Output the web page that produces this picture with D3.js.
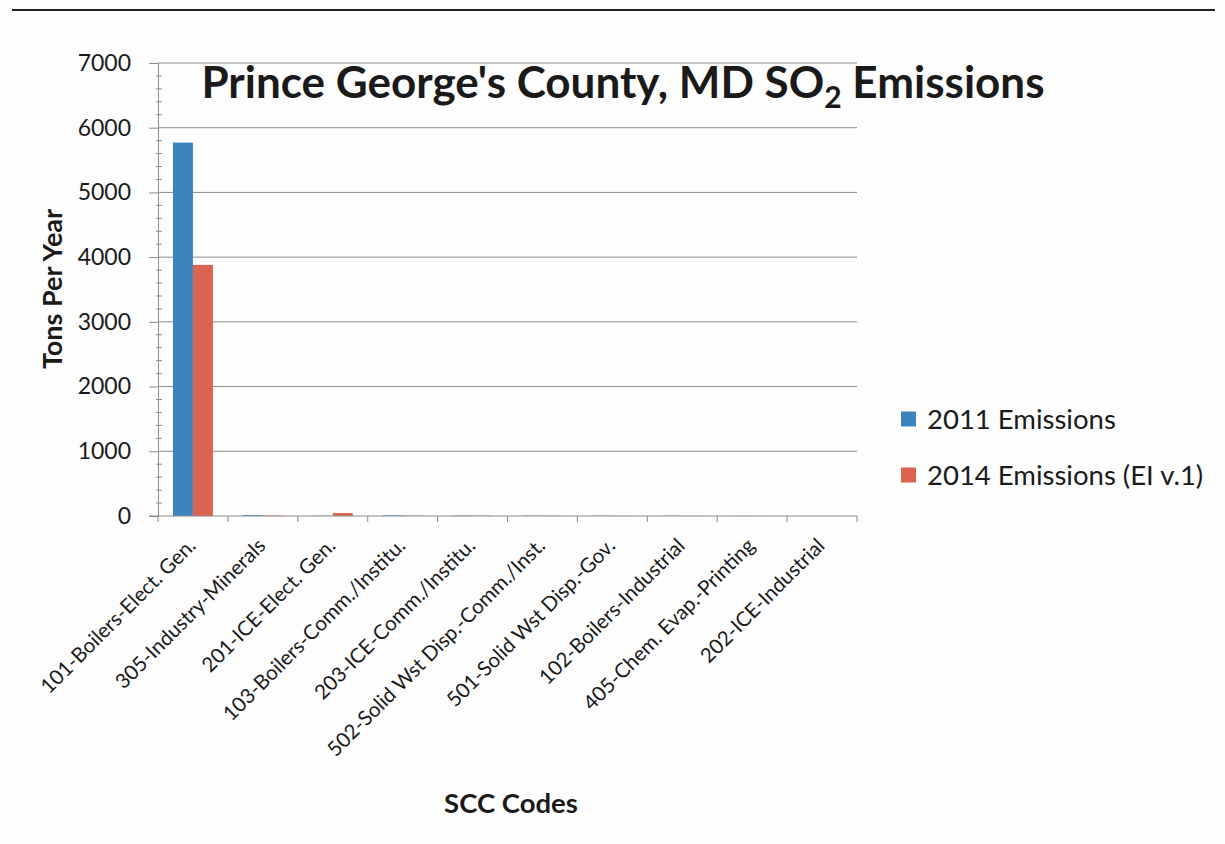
<!DOCTYPE html>
<html>
<head>
<meta charset="utf-8">
<script src="https://cdn.jsdelivr.net/npm/d3@7"></script>
<style>
  html, body { margin: 0; padding: 0; background: #fdfdfd; }
  svg { display: block; }
  text { font-family: Lato, "Open Sans", sans-serif; fill: #1a1a1a; }
</style>
</head>
<body>
<svg id="chart" width="1225" height="844"></svg>
<script>
// SCC source categories, ordered by 2011 emissions
const categories = [
  "101-Boilers-Elect. Gen.",
  "305-Industry-Minerals",
  "201-ICE-Elect. Gen.",
  "103-Boilers-Comm./Institu.",
  "203-ICE-Comm./Institu.",
  "502-Solid Wst Disp.-Comm./Inst.",
  "501-Solid Wst Disp.-Gov.",
  "102-Boilers-Industrial",
  "405-Chem. Evap.-Printing",
  "202-ICE-Industrial"
];
// SO2 emissions, tons per year
const emissions2011 = [5770, 14, 3, 9, 6, 5, 4, 3, 2, 1];
const emissions2014 = [3880, 8, 45, 6, 4, 3, 2, 2, 1, 1];
const seriesNames = ["2011 Emissions", "2014 Emissions (EI v.1)"];
const seriesColors = ["#3b84bd", "#dc6350"];
const yTicks = [0, 1000, 2000, 3000, 4000, 5000, 6000, 7000];

const series = [emissions2011, emissions2014];
const svg = d3.select("#chart");

const plot = { left: 158, right: 857, top: 63, bottom: 516 };

const y = d3.scaleLinear().domain([0, 7000]).range([plot.bottom, plot.top]);
const x = d3.scaleBand().domain(categories).range([plot.left, plot.right])
  .paddingInner(0).paddingOuter(0);
const xs = d3.scaleBand().domain([0, 1]).range([0, x.bandwidth()])
  .paddingInner(0).paddingOuter(0.75);

// page rule along the top
svg.append("line")
  .attr("x1", 12).attr("x2", 1215).attr("y1", 10).attr("y2", 10)
  .attr("stroke", "#222").attr("stroke-width", 2);

// horizontal gridlines
svg.append("g").selectAll("line").data(yTicks.filter(d => d > 0)).join("line")
  .attr("x1", plot.left).attr("x2", plot.right)
  .attr("y1", d => y(d)).attr("y2", d => y(d))
  .attr("stroke", "#8c8c8c").attr("stroke-width", 1);

// y axis with major and minor ticks
const yAxis = svg.append("g").attr("transform", `translate(${plot.left},0)`)
  .call(d3.axisLeft(y).tickValues(yTicks).tickSize(9).tickPadding(18).tickFormat(d3.format("d")));
yAxis.select(".domain").attr("stroke", "#8c8c8c");
yAxis.selectAll(".tick line").attr("stroke", "#8c8c8c");
yAxis.selectAll(".tick text")
  .style("font-size", "23px").style("font-family", "Lato, sans-serif").attr("fill", "#1a1a1a");
svg.append("g").selectAll("line").data(d3.range(0, 7001, 200).filter(d => d % 1000 !== 0)).join("line")
  .attr("x1", plot.left - 2).attr("x2", plot.left + 4)
  .attr("y1", d => y(d)).attr("y2", d => y(d))
  .attr("stroke", "#8c8c8c");

// bars
const groups = svg.append("g").selectAll("g").data(categories).join("g")
  .attr("transform", d => `translate(${x(d)},0)`);
groups.selectAll("rect")
  .data((d, i) => series.map((s, k) => ({ k, v: s[i] })))
  .join("rect")
  .attr("x", d => xs(d.k))
  .attr("width", xs.bandwidth())
  .attr("y", d => y(d.v))
  .attr("height", d => y(0) - y(d.v))
  .attr("fill", d => seriesColors[d.k]);

// x axis line and category boundary ticks
svg.append("line")
  .attr("x1", plot.left - 9).attr("x2", plot.right)
  .attr("y1", plot.bottom).attr("y2", plot.bottom)
  .attr("stroke", "#8c8c8c");
svg.append("g").selectAll("line").data(categories).join("line")
  .attr("x1", d => x(d) + x.bandwidth()).attr("x2", d => x(d) + x.bandwidth())
  .attr("y1", plot.bottom).attr("y2", plot.bottom + 6)
  .attr("stroke", "#8c8c8c");
svg.append("line")
  .attr("x1", plot.left).attr("x2", plot.left)
  .attr("y1", plot.bottom).attr("y2", plot.bottom + 6)
  .attr("stroke", "#8c8c8c");

// rotated category labels
svg.append("g").selectAll("text").data(categories).join("text")
  .attr("transform", d => `translate(${x(d) + x.bandwidth() / 2 + 4},${plot.bottom + 31}) rotate(-45)`)
  .attr("text-anchor", "end")
  .style("font-size", "20.5px")
  .text(d => d);

// title
const title = svg.append("text")
  .attr("x", 623).attr("y", 98)
  .attr("text-anchor", "middle")
  .style("font-size", "44px").style("font-weight", "bold");
title.append("tspan").text("Prince George's County, MD SO");
title.append("tspan").attr("dy", 10).style("font-size", "30px").text("2");
title.append("tspan").attr("dy", -10).text(" Emissions");

// axis titles
svg.append("text")
  .attr("transform", "translate(62,289) rotate(-90)")
  .attr("text-anchor", "middle")
  .style("font-size", "27px").style("font-weight", "bold")
  .text("Tons Per Year");
svg.append("text")
  .attr("x", 511).attr("y", 813)
  .attr("text-anchor", "middle")
  .style("font-size", "27.5px").style("font-weight", "bold")
  .text("SCC Codes");

// legend
const legend = svg.append("g").selectAll("g").data(seriesNames).join("g")
  .attr("transform", (d, i) => `translate(901,${419 + i * 56})`);
legend.append("rect")
  .attr("x", 0).attr("y", -7.5).attr("width", 15).attr("height", 15)
  .attr("fill", (d, i) => seriesColors[i]);
legend.append("text")
  .attr("x", 26).attr("y", 0).attr("dy", "0.36em")
  .style("font-size", "27.5px")
  .text(d => d);
</script>
</body>
</html>
